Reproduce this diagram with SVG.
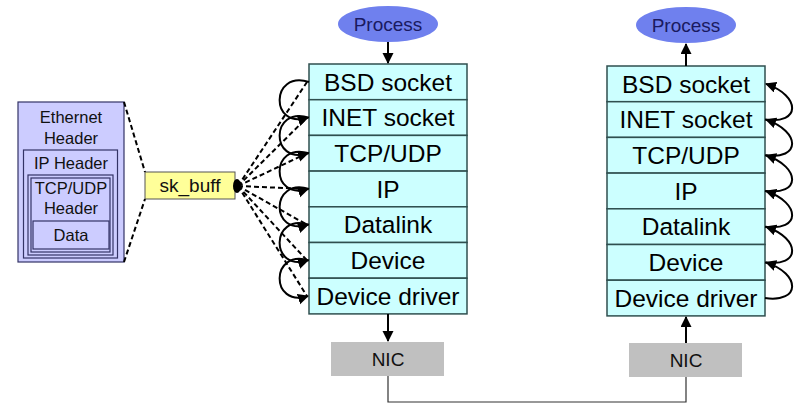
<svg xmlns="http://www.w3.org/2000/svg" width="807" height="411" viewBox="0 0 807 411">
<defs>
<marker id="ah" markerUnits="userSpaceOnUse" markerWidth="12" markerHeight="12" refX="10" refY="5.5" orient="auto">
<path d="M0,0 L11,5.5 L0,11 z" fill="#000"/>
</marker>
<style>
.row{fill:#ccffff;stroke:#2f4f4f;stroke-width:1.5}
.rt{font-family:"Liberation Sans",Arial,sans-serif;font-size:24.5px;fill:#000;text-anchor:middle}
.proc{fill:#6f80ee;stroke:none}
.pt{font-family:"Liberation Sans",Arial,sans-serif;font-size:19px;fill:#1a1a60;text-anchor:middle}
.nic{fill:#c0c0c0;stroke:none}
.nt{font-family:"Liberation Sans",Arial,sans-serif;font-size:19px;fill:#111;text-anchor:middle}
.eb{fill:#ccccff;stroke:#333366;stroke-width:1.2}
.et{font-family:"Liberation Sans",Arial,sans-serif;font-size:16.5px;fill:#111;text-anchor:middle}
.arr{fill:none;stroke:#000;stroke-width:2;marker-end:url(#ah)}
.dash{fill:none;stroke:#000;stroke-width:2;stroke-dasharray:5,3}
.wire{fill:none;stroke:#333;stroke-width:1.2}
</style>
</defs>

<g id="packet">
<rect class="eb" x="18" y="102" width="106" height="160"/>
<text class="et" x="71" y="123">Ethernet</text>
<text class="et" x="71" y="144">Header</text>
<rect class="eb" x="23.5" y="150" width="94" height="108"/>
<text class="et" x="71" y="169">IP Header</text>
<rect class="eb" x="28" y="175" width="85" height="80"/>
<rect class="eb" x="31" y="178" width="79" height="74"/>
<text class="et" x="71" y="194">TCP/UDP</text>
<text class="et" x="71" y="214">Header</text>
<rect class="eb" x="33" y="221" width="76" height="28"/>
<text class="et" x="71" y="241">Data</text>
</g>

<g id="skbuff">
<rect x="145" y="172" width="90" height="27" fill="#ffff99" stroke="#555" stroke-width="1"/>
<text x="190" y="192" font-family="'Liberation Sans',Arial,sans-serif" font-size="19px" text-anchor="middle" fill="#111">sk_buff</text>
<ellipse cx="237" cy="186" rx="4" ry="7" fill="#000"/>
</g>

<g id="process-left">
<ellipse class="proc" cx="388" cy="24" rx="50" ry="18"/>
<text class="pt" x="388" y="30.5">Process</text>
</g>
<g id="process-right">
<ellipse class="proc" cx="686" cy="25" rx="50" ry="18"/>
<text class="pt" x="686" y="31.5">Process</text>
</g>

<g id="stack-left">
<rect class="row" x="309" y="64" width="158" height="35.7"/>
<rect class="row" x="309" y="99.7" width="158" height="35.7"/>
<rect class="row" x="309" y="135.4" width="158" height="35.7"/>
<rect class="row" x="309" y="171.1" width="158" height="35.7"/>
<rect class="row" x="309" y="206.8" width="158" height="35.7"/>
<rect class="row" x="309" y="242.5" width="158" height="35.7"/>
<rect class="row" x="309" y="278.2" width="158" height="35.7"/>
<text class="rt" x="388" y="90.5">BSD socket</text>
<text class="rt" x="388" y="126.2">INET socket</text>
<text class="rt" x="388" y="161.9">TCP/UDP</text>
<text class="rt" x="388" y="197.6">IP</text>
<text class="rt" x="388" y="233.3">Datalink</text>
<text class="rt" x="388" y="269">Device</text>
<text class="rt" x="388" y="304.7">Device driver</text>
</g>

<g id="stack-right">
<rect class="row" x="607" y="66" width="158" height="35.7"/>
<rect class="row" x="607" y="101.7" width="158" height="35.7"/>
<rect class="row" x="607" y="137.4" width="158" height="35.7"/>
<rect class="row" x="607" y="173.1" width="158" height="35.7"/>
<rect class="row" x="607" y="208.8" width="158" height="35.7"/>
<rect class="row" x="607" y="244.5" width="158" height="35.7"/>
<rect class="row" x="607" y="280.2" width="158" height="35.7"/>
<text class="rt" x="686" y="92.5">BSD socket</text>
<text class="rt" x="686" y="128.2">INET socket</text>
<text class="rt" x="686" y="163.9">TCP/UDP</text>
<text class="rt" x="686" y="199.6">IP</text>
<text class="rt" x="686" y="235.3">Datalink</text>
<text class="rt" x="686" y="271">Device</text>
<text class="rt" x="686" y="306.7">Device driver</text>
</g>

<g id="nic-left">
<rect class="nic" x="331" y="342" width="113" height="34"/>
<text class="nt" x="388" y="365.5">NIC</text>
</g>
<g id="nic-right">
<rect class="nic" x="629" y="343" width="113" height="34"/>
<text class="nt" x="686" y="366.5">NIC</text>
</g>

<g id="connectors">
<path class="dash" d="M124,102 L145,172"/>
<path class="dash" d="M124,262 L145,199"/>
<path class="dash" d="M238,186 L307,82"/>
<path class="dash" d="M238,186 L307,117.6"/>
<path class="dash" d="M238,186 L307,153.3"/>
<path class="dash" d="M238,186 L307,189"/>
<path class="dash" d="M238,186 L307,224.7"/>
<path class="dash" d="M238,186 L307,260.4"/>
<path class="dash" d="M238,186 L307,296.1"/>

<path class="arr" d="M309,82 C270,70 270,130 308,117.6"/>
<path class="arr" d="M309,117.6 C270,105.6 270,165.3 308,153.3"/>
<path class="arr" d="M309,153.3 C270,141.3 270,201 308,189"/>
<path class="arr" d="M309,189 C270,177 270,236.7 308,224.7"/>
<path class="arr" d="M309,224.7 C270,212.7 270,272.4 308,260.4"/>
<path class="arr" d="M309,260.4 C270,248.4 270,308.1 308,296.1"/>

<path class="arr" d="M765,298.1 C801,303 801,274 766,262.4"/>
<path class="arr" d="M765,262.4 C801,267.4 801,238.7 766,226.7"/>
<path class="arr" d="M765,226.7 C801,231.7 801,203 766,191"/>
<path class="arr" d="M765,191 C801,196 801,167.3 766,155.3"/>
<path class="arr" d="M765,155.3 C801,160.3 801,131.6 766,119.6"/>
<path class="arr" d="M765,119.6 C801,124.6 801,95.9 766,83.9"/>

<path class="arr" d="M388,42 L388,63"/>
<path class="arr" d="M686,66 L686,44"/>
<path class="arr" d="M388,314 L388,341"/>
<path class="arr" d="M686,343 L686,317"/>

<path class="wire" d="M388,376 L388,402 L686,402 L686,377"/>
</g>
</svg>
